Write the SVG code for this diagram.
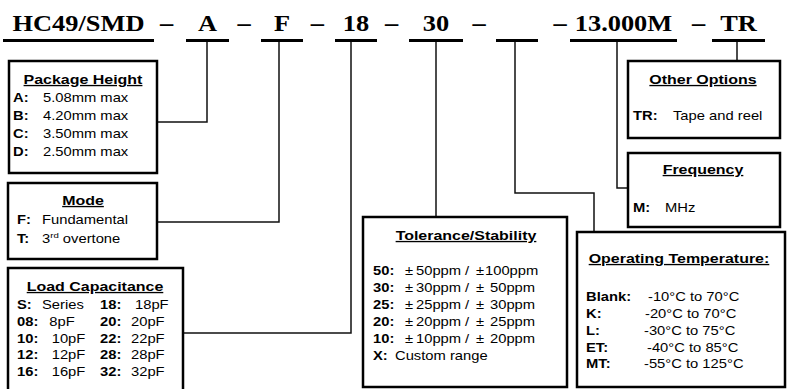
<svg xmlns="http://www.w3.org/2000/svg" width="788" height="389" viewBox="0 0 788 389">
<style>
.hd{font-family:"Liberation Serif","Times New Roman",serif;font-weight:bold;font-size:24px;fill:#000;text-anchor:middle}
.bx{fill:#fff;stroke:#000;stroke-width:2.5}
.ul{stroke:#000;stroke-width:3}
.cn{fill:none;stroke:#111;stroke-width:1.5}
.t{font-family:"Liberation Sans",Arial,sans-serif;font-size:12.3px;fill:#000}
.ti{font-family:"Liberation Sans",Arial,sans-serif;font-size:13.3px;font-weight:bold;text-decoration:underline;text-anchor:middle;fill:#000}
.b{font-weight:bold}
</style>
<rect width="788" height="389" fill="#fff"/>
<g id="header">
<g transform="scale(1.1,1)">
<text class="hd" x="71.36" y="31">HC49/SMD</text>
<text class="hd" x="151.4" y="31">–</text>
<text class="hd" x="188.6" y="31">A</text>
<text class="hd" x="221.8" y="31">–</text>
<text class="hd" x="256.4" y="31">F</text>
<text class="hd" x="288.6" y="31">–</text>
<text class="hd" x="323.6" y="31">18</text>
<text class="hd" x="355.9" y="31">–</text>
<text class="hd" x="396.4" y="31">30</text>
<text class="hd" x="435.5" y="31">–</text>
<text class="hd" x="509.1" y="31">–</text>
<text class="hd" x="566.8" y="31">13.000M</text>
<text class="hd" x="635" y="31">–</text>
<text class="hd" x="671.4" y="31">TR</text>
</g>
<line class="ul" x1="3" y1="40.5" x2="154" y2="40.5"/>
<line class="ul" x1="186" y1="40.5" x2="229" y2="40.5"/>
<line class="ul" x1="261" y1="40.5" x2="303" y2="40.5"/>
<line class="ul" x1="335" y1="40.5" x2="377" y2="40.5"/>
<line class="ul" x1="409" y1="40.5" x2="463" y2="40.5"/>
<line class="ul" x1="496" y1="40.5" x2="538" y2="40.5"/>
<line class="ul" x1="570" y1="40.5" x2="677" y2="40.5"/>
<line class="ul" x1="712" y1="40.5" x2="765" y2="40.5"/>
</g>
<g id="connectors">
<polyline class="cn" points="207,42 207,122 157,122"/>
<polyline class="cn" points="279,42 279,222 157,222"/>
<polyline class="cn" points="351,42 351,333 183,333"/>
<polyline class="cn" points="436,42 436,217"/>
<polyline class="cn" points="515,42 515,193 594,193 594,232"/>
<polyline class="cn" points="617,42 617,188 628,188"/>
<polyline class="cn" points="737,42 737,61"/>
</g>
<g id="package-height">
<rect class="bx" x="9" y="61" width="148" height="112"/>
<g transform="scale(1.2,1)">
<text class="ti" x="69.17" y="84">Package Height</text>
<text class="t" y="102"><tspan class="b" x="10.83">A:</tspan><tspan x="35.83">5.08mm max</tspan></text>
<text class="t" y="120"><tspan class="b" x="10.83">B:</tspan><tspan x="35.83">4.20mm max</tspan></text>
<text class="t" y="138"><tspan class="b" x="10.83">C:</tspan><tspan x="35.83">3.50mm max</tspan></text>
<text class="t" y="156"><tspan class="b" x="10.83">D:</tspan><tspan x="35.83">2.50mm max</tspan></text>
</g>
</g>
<g id="mode">
<rect class="bx" x="8" y="183" width="149" height="76"/>
<g transform="scale(1.2,1)">
<text class="ti" x="69.17" y="205">Mode</text>
<text class="t" y="224"><tspan class="b" x="14.17">F:</tspan><tspan x="35">Fundamental</tspan></text>
<text class="t" y="243"><tspan class="b" x="14.17">T:</tspan><tspan x="35">3</tspan><tspan font-size="8" dy="-4.5">rd</tspan><tspan dy="4.5"> overtone</tspan></text>
</g>
</g>
<g id="load-capacitance">
<rect class="bx" x="8" y="268" width="175" height="125"/>
<g transform="scale(1.2,1)">
<text class="ti" x="79.17" y="291">Load Capacitance</text>
<text class="t" y="309"><tspan class="b" x="14.17">S:</tspan><tspan x="35">Series</tspan><tspan class="b" x="83.33">18:</tspan><tspan x="112.5">18pF</tspan></text>
<text class="t" y="326"><tspan class="b" x="14.17">08:</tspan><tspan x="41.08">8pF</tspan><tspan class="b" x="83.33">20:</tspan><tspan x="109.17">20pF</tspan></text>
<text class="t" y="343"><tspan class="b" x="14.17">10:</tspan><tspan x="43.08">10pF</tspan><tspan class="b" x="83.33">22:</tspan><tspan x="109.17">22pF</tspan></text>
<text class="t" y="359"><tspan class="b" x="14.17">12:</tspan><tspan x="43.08">12pF</tspan><tspan class="b" x="83.33">28:</tspan><tspan x="109.17">28pF</tspan></text>
<text class="t" y="376"><tspan class="b" x="14.17">16:</tspan><tspan x="43.08">16pF</tspan><tspan class="b" x="83.33">32:</tspan><tspan x="109.17">32pF</tspan></text>
</g>
</g>
<g id="tolerance-stability">
<rect class="bx" x="363" y="217" width="204" height="170"/>
<g transform="scale(1.2,1)">
<text class="ti" x="388.33" y="240">Tolerance/Stability</text>
<text class="t" y="275"><tspan class="b" x="310.83">50:</tspan><tspan x="337.5">±</tspan><tspan x="346.67">50ppm</tspan><tspan x="387.5">/</tspan><tspan x="396.67">±</tspan><tspan x="404.17">100ppm</tspan></text>
<text class="t" y="292"><tspan class="b" x="310.83">30:</tspan><tspan x="337.5">±</tspan><tspan x="346.67">30ppm</tspan><tspan x="387.5">/</tspan><tspan x="396.67">±</tspan><tspan x="408.33">50ppm</tspan></text>
<text class="t" y="309"><tspan class="b" x="310.83">25:</tspan><tspan x="337.5">±</tspan><tspan x="346.67">25ppm</tspan><tspan x="387.5">/</tspan><tspan x="396.67">±</tspan><tspan x="408.33">30ppm</tspan></text>
<text class="t" y="326"><tspan class="b" x="310.83">20:</tspan><tspan x="337.5">±</tspan><tspan x="346.67">20ppm</tspan><tspan x="387.5">/</tspan><tspan x="396.67">±</tspan><tspan x="408.33">25ppm</tspan></text>
<text class="t" y="343"><tspan class="b" x="310.83">10:</tspan><tspan x="337.5">±</tspan><tspan x="346.67">10ppm</tspan><tspan x="387.5">/</tspan><tspan x="396.67">±</tspan><tspan x="408.33">20ppm</tspan></text>
<text class="t" y="360"><tspan class="b" x="310.83">X:</tspan><tspan x="329.17">Custom range</tspan></text>
</g>
</g>
<g id="operating-temperature">
<rect class="bx" x="577" y="232" width="208" height="155"/>
<g transform="scale(1.2,1)">
<text class="ti" x="565.83" y="263">Operating Temperature:</text>
<text class="t" y="301"><tspan class="b" x="488.33">Blank:</tspan><tspan x="540">-10°C to 70°C</tspan></text>
<text class="t" y="318"><tspan class="b" x="488.33">K:</tspan><tspan x="537.5">-20°C to 70°C</tspan></text>
<text class="t" y="335"><tspan class="b" x="488.33">L:</tspan><tspan x="536.67">-30°C to 75°C</tspan></text>
<text class="t" y="352"><tspan class="b" x="488.33">ET:</tspan><tspan x="539.17">-40°C to 85°C</tspan></text>
<text class="t" y="368"><tspan class="b" x="488.33">MT:</tspan><tspan x="536.67">-55°C to 125°C</tspan></text>
</g>
</g>
<g id="other-options">
<rect class="bx" x="628" y="61" width="152" height="77"/>
<g transform="scale(1.2,1)">
<text class="ti" x="585.83" y="84">Other Options</text>
<text class="t" y="120"><tspan class="b" x="527.5">TR:</tspan><tspan x="560.83">Tape and reel</tspan></text>
</g>
</g>
<g id="frequency">
<rect class="bx" x="628" y="153" width="152" height="74"/>
<g transform="scale(1.2,1)">
<text class="ti" x="585.83" y="174">Frequency</text>
<text class="t" y="212"><tspan class="b" x="527.5">M:</tspan><tspan x="554.17">MHz</tspan></text>
</g>
</g>
</svg>
